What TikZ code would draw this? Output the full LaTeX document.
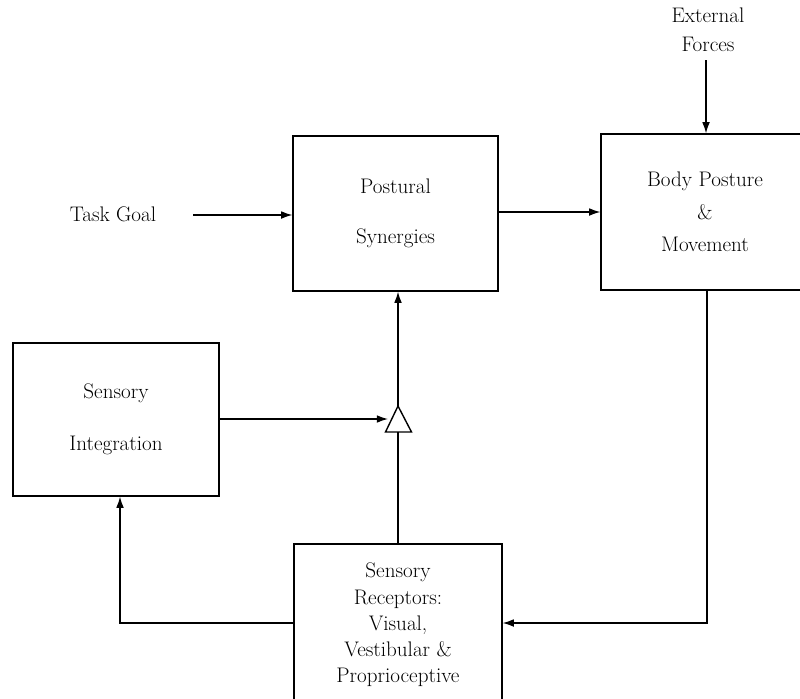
\documentclass[tikz,border=0pt]{standalone}
\usetikzlibrary{arrows.meta}
\begin{document}
\begin{tikzpicture}[x=0.025cm,y=-0.025cm,
  box/.style={draw,line width=0.9pt,inner sep=0pt,align=center},
  lbl/.style={align=center,inner sep=0pt},
  conn/.style={line width=0.9pt,-{Latex[length=8pt,width=5.5pt]}},
  plain/.style={line width=0.9pt},
  every node/.style={font=\fontsize{15}{18}\selectfont}]
\clip (0,0) rectangle (800,698);
% boxes
\node[box,minimum width=205*0.025cm,minimum height=155*0.025cm,font=\fontsize{15}{36}\selectfont] (ps) at (395.5,213.5) {Postural\\Synergies};
\node[box,minimum width=208*0.025cm,minimum height=156*0.025cm,font=\fontsize{15}{23}\selectfont] (bp) at (705,212) {Body Posture\\\&\\Movement};
\node[box,minimum width=206*0.025cm,minimum height=153*0.025cm,font=\fontsize{15}{37}\selectfont] (si) at (116,419.5) {Sensory\\Integration};
\node[box,minimum width=208*0.025cm,minimum height=162*0.025cm,font=\fontsize{15}{18.7}\selectfont] (sr) at (398,625) {Sensory\\Receptors:\\Visual,\\Vestibular \&\\Proprioceptive};
% labels
\node[lbl] (tg) at (113,214) {Task Goal};
\node[lbl,font=\fontsize{15}{20.5}\selectfont] (ef) at (708,30) {External\\Forces};
% triangle
\coordinate (tapex) at (398,406);
\coordinate (tl) at (385.5,432);
\coordinate (tr) at (411.5,432);
\coordinate (tbase) at (398,432);
\coordinate (tin) at (388,419);
\draw[line width=1pt,line join=miter] (tapex) -- (tl) -- (tr) -- cycle;
% connectors
\coordinate (tgend) at (193,215);
\draw[conn] (tgend) -- (tgend -| ps.west);
\draw[conn] (ps.east |- 0,212) -- (bp.west |- 0,212);
\coordinate (efstart) at (706,60);
\draw[conn] (efstart) -- (efstart |- bp.north);
\draw[conn] (tapex) -- (ps.south -| tapex);
\draw[plain] (sr.north -| tbase) -- (tbase);
\draw[conn] (si.east |- tin) -- (tin);
\coordinate (c1) at (707,623);
\draw[conn] (bp.south -| c1) -- (c1) -- (sr.east |- c1);
\coordinate (c2) at (120,623);
\draw[conn] (sr.west |- c2) -- (c2) -- (si.south -| c2);
\end{tikzpicture}
\end{document}
